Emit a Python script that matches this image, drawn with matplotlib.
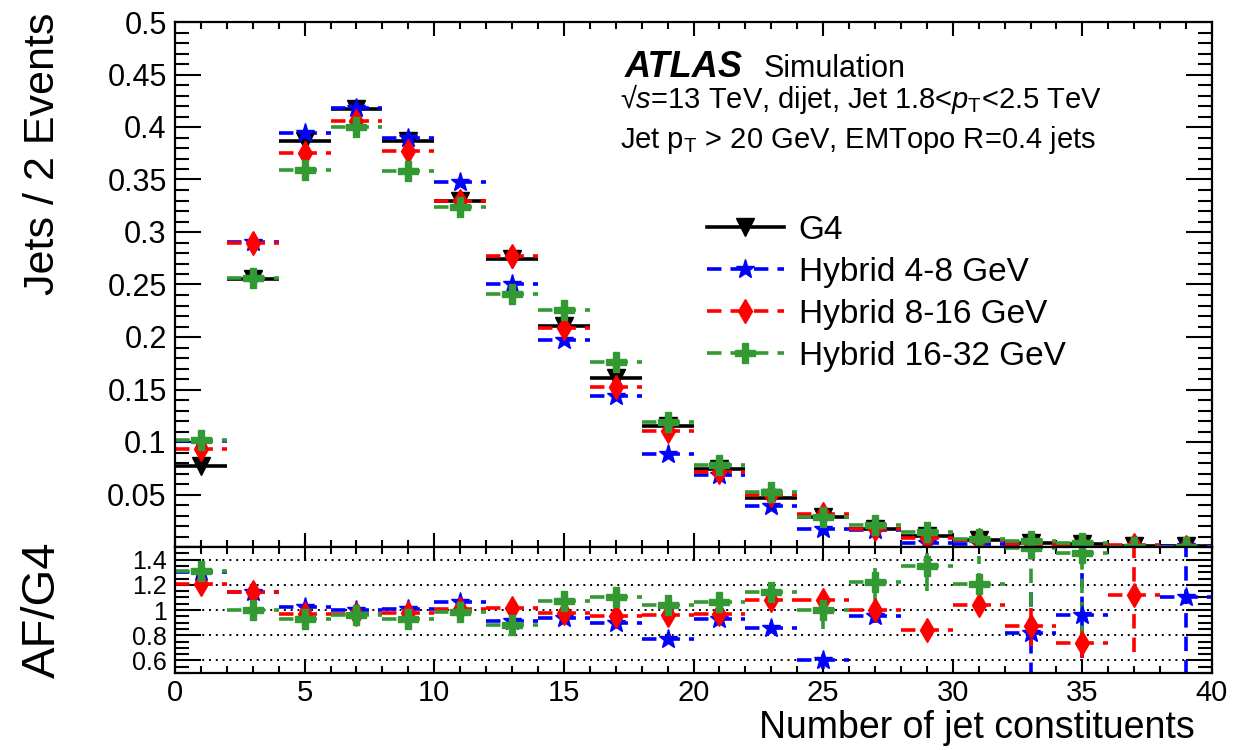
import numpy as np
import matplotlib
matplotlib.use("Agg")
import matplotlib.pyplot as plt
from matplotlib.lines import Line2D
from matplotlib.ticker import MultipleLocator, FixedLocator, FuncFormatter

plt.rcParams["font.family"] = ["Liberation Sans", "DejaVu Sans"]
plt.rcParams["mathtext.fontset"] = "custom"
plt.rcParams["mathtext.rm"] = "Liberation Sans"
plt.rcParams["mathtext.it"] = "Liberation Sans:italic"

# bin centres, bins are 2 constituents wide
n_const = [1, 3, 5, 7, 9, 11, 13, 15, 17, 19, 21, 23, 25, 27, 29, 31, 33, 35, 37, 39]
half_bin = 1.0

g4 = [0.0776, 0.2557, 0.3870, 0.4176, 0.3870, 0.3295, 0.2746, 0.2107, 0.1606, 0.1149,
      0.0740, 0.0463, 0.0287, 0.0172, 0.0105, 0.0064, 0.0038, 0.0026, 0.0014, 0.0008]
hyb_4_8 = [0.1010, 0.2905, 0.3940, 0.4185, 0.3900, 0.3474, 0.2506, 0.1973, 0.1440, 0.0888,
           0.0687, 0.0395, 0.0172, 0.0164, 0.0040, 0.0028, 0.0031, 0.0025, 0.0003, 0.0009]
hyb_8_16 = [0.0930, 0.2900, 0.3750, 0.4055, 0.3768, 0.3295, 0.2768, 0.2085, 0.1526, 0.1103,
            0.0718, 0.0500, 0.0310, 0.0172, 0.0088, 0.0067, 0.0033, 0.0019, 0.0016, 0.0002]
hyb_16_32 = [0.1015, 0.2560, 0.3590, 0.3997, 0.3585, 0.3240, 0.2410, 0.2260, 0.1766, 0.1195,
             0.0785, 0.0528, 0.0287, 0.0210, 0.0142, 0.0077, 0.0057, 0.0038, 0.0002, 0.0002]

# AF/G4 ratios (nan = outside the displayed range)
nan = np.nan
ratio_4_8 = [1.30, 1.14, 1.02, 1.00, 1.01, 1.06, 0.913, 0.936, 0.897, 0.773,
             0.928, 0.858, 0.605, 0.953, nan, nan, 0.815, 0.96, nan, 1.105]
ratio_8_16 = [1.205, 1.14, 0.97, 0.97, 0.975, 1.01, 1.015, 0.98, 0.95, 0.96,
              0.97, 1.08, 1.08, 1.00, 0.842, 1.04, 0.873, 0.74, 1.12, nan]
ratio_16_32 = [1.31, 1.00, 0.93, 0.957, 0.926, 0.983, 0.878, 1.073, 1.10, 1.04,
               1.06, 1.14, 1.00, 1.22, 1.348, 1.21, 1.49, 1.45, nan, nan]

rerr_4_8 = [0.015, 0.01, 0.01, 0.01, 0.01, 0.01, 0.012, 0.015, 0.015, 0.02,
            0.025, 0.035, 0.07, 0.06, 0.0, 0.0, 0.35, 0.34, 0.0, 0.8]
rerr_8_16 = [0.015, 0.01, 0.01, 0.01, 0.01, 0.01, 0.012, 0.015, 0.015, 0.02,
             0.025, 0.035, 0.06, 0.06, 0.08, 0.06, 0.155, 0.12, 0.45, 0.0]
rerr_16_32 = [0.015, 0.01, 0.01, 0.01, 0.01, 0.01, 0.012, 0.015, 0.02, 0.025,
              0.03, 0.05, 0.15, 0.19, 0.2, 0.22, 0.65, 0.69, 0.0, 0.0]

labels = ["Hybrid 4-8 GeV", "Hybrid 8-16 GeV", "Hybrid 16-32 GeV"]
colors = ["#0000ff", "#ff0000", "#339933"]
markers = ["*", "d", "P"]
msizes = [14, 12, 15]
dash = (0, (4, 2.5))

W, H = 1235, 750
fig = plt.figure(figsize=(W / 100, H / 100), dpi=100)
ax = fig.add_axes([175 / W, 1 - 547 / H, 1037 / W, 525 / H])
axr = fig.add_axes([175 / W, 1 - 673 / H, 1037 / W, 126 / H], sharex=ax)


def draw(a, y, yerr, color, marker, ms, ls):
    eb = a.errorbar(n_const, y, xerr=half_bin, yerr=yerr, fmt=marker, color=color,
                    ms=ms, mec=color, elinewidth=2.6, capsize=0)
    for coll in eb.lines[2]:
        coll.set_linestyle(ls)
    return eb


# top panel
draw(ax, g4, 0.0, "black", "v", 13, "solid")
tops = [hyb_4_8, hyb_8_16, hyb_16_32]
ratios = [ratio_4_8, ratio_8_16, ratio_16_32]
rerrs = [rerr_4_8, rerr_8_16, rerr_16_32]
for vals, re_, c, m, ms in zip(tops, rerrs, colors, markers, msizes):
    draw(ax, vals, np.array(re_) * np.array(g4), c, m, ms, dash)

# ratio panel
for yv in [0.6, 0.8, 1.0, 1.2, 1.4]:
    axr.axhline(yv, color="black", ls=(0, (1, 2.5)), lw=1.4, zorder=0)
for r, re_, c, m, ms in zip(ratios, rerrs, colors, markers, msizes):
    draw(axr, r, re_, c, m, ms, dash)

ax.set_xlim(0, 40)
ax.set_ylim(0, 0.5)
axr.set_ylim(0.5, 1.5)

ax.xaxis.set_major_locator(MultipleLocator(5))
ax.xaxis.set_minor_locator(MultipleLocator(1))
ax.yaxis.set_major_locator(MultipleLocator(0.05))
ax.yaxis.set_minor_locator(MultipleLocator(0.01))
ax.yaxis.set_major_formatter(FuncFormatter(lambda v, p: "" if abs(v) < 1e-9 else "%g" % round(v, 3)))
axr.yaxis.set_major_locator(FixedLocator([0.6, 0.8, 1.0, 1.2, 1.4]))
axr.yaxis.set_minor_locator(MultipleLocator(0.05))
axr.yaxis.set_major_formatter(FuncFormatter(lambda v, p: "%g" % round(v, 2)))

for a in (ax, axr):
    a.tick_params(which="both", direction="in", top=True, right=True, width=1.5)
    a.tick_params(axis="y", which="major", length=19)
    a.tick_params(axis="y", which="minor", length=10)
    a.tick_params(axis="x", which="major", length=10)
    a.tick_params(axis="x", which="minor", length=5)
    for s in a.spines.values():
        s.set_linewidth(1.6)
ax.tick_params(axis="x", labelbottom=False)
ax.tick_params(axis="y", labelsize=22, pad=6)
axr.tick_params(axis="y", labelsize=18, pad=6)
axr.tick_params(axis="x", labelsize=21, pad=4)

fig.text(43 / W, 1 - 13 / H, "Jets / 2 Events", rotation=90, ha="center", va="top", fontsize=31)
fig.text(43 / W, 1 - 610 / H, "AF/G4", rotation=90, ha="center", va="center", fontsize=34)
fig.text(1195 / W, 1 - 738 / H, "Number of jet constituents", ha="right", va="baseline", fontsize=27)

# ATLAS label block
fig.text(625 / W, 1 - 77 / H, "ATLAS", fontsize=26, fontweight="bold", fontstyle="italic", va="baseline")
fig.text(764 / W, 1 - 77 / H, "Simulation", fontsize=22, va="baseline")
fig.text(620 / W, 1 - 108 / H, "√$s$=13 TeV, dijet, Jet 1.8<$p_{\\mathrm{T}}$<2.5 TeV", fontsize=21, va="baseline")
fig.text(620 / W, 1 - 148 / H, "Jet p$_{\\mathrm{T}}$ > 20 GeV, EMTopo R=0.4 jets", fontsize=21, va="baseline")

handles = [Line2D([], [], color="black", lw=2.6, marker="v", ms=13)]
for c, m, ms in zip(colors, markers, msizes):
    handles.append(Line2D([], [], color=c, lw=2.6, ls=dash, marker=m, ms=ms))
fig.legend(handles, ["G4"] + labels, loc="upper left", bbox_to_anchor=(707 / W, 1 - 215 / H),
           frameon=False, fontsize=24, handlelength=2.3, handletextpad=0.45,
           labelspacing=0.33, borderpad=0, borderaxespad=0)

fig.savefig("out.png", dpi=100)
